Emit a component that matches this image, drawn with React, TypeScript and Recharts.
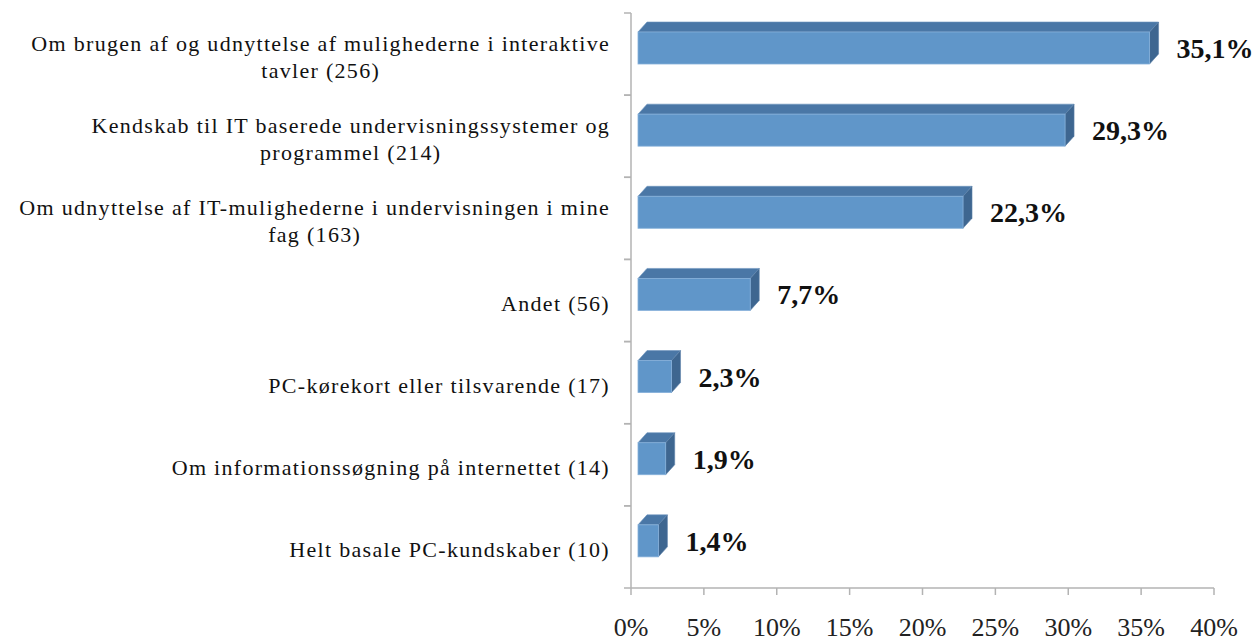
import React from "react";
import { BarChart, Bar, XAxis, YAxis, LabelList } from "recharts";

document.body.style.margin = "0";

// categories, top to bottom ("\n" marks where the label wraps)
const categories = [
  "Om brugen af og udnyttelse af mulighederne i interaktive\ntavler (256)",
  "Kendskab til IT baserede undervisningssystemer og\nprogrammel (214)",
  "Om udnyttelse af IT-mulighederne i undervisningen i mine\nfag (163)",
  "Andet (56)",
  "PC-kørekort eller tilsvarende (17)",
  "Om informationssøgning på internettet (14)",
  "Helt basale PC-kundskaber (10)",
];
const shares = [35.1, 29.3, 22.3, 7.7, 2.3, 1.9, 1.4];
const xTicks = [0, 5, 10, 15, 20, 25, 30, 35, 40];

const data = categories.map((name, i) => ({ name, value: shares[i] }));

const W = 1259;
const H = 644;
const AXIS_X = 631;
const PLOT_TOP = 13;
const PLOT_BOTTOM = 588;
const BAND = (PLOT_BOTTOM - PLOT_TOP) / categories.length;
const AXIS_COLOR = "#b3b3b3";
const SERIF = "Liberation Serif, Times New Roman, serif";

// 3D look like the old Excel chart
const DX = 9;
const DY = 10;
const SHIFT_X = 7;
const SHIFT_Y = -6;

const Bar3D = (props: any) => {
  const { x, y, width, height } = props;
  if (width == null || width <= 0) return null;
  const fx = x + SHIFT_X;
  const fy = y + SHIFT_Y;
  const w = width;
  const h = height;
  const top = `${fx},${fy} ${fx + DX},${fy - DY} ${fx + DX + w},${fy - DY} ${fx + w},${fy}`;
  const side = `${fx + w},${fy} ${fx + w + DX},${fy - DY} ${fx + w + DX},${fy + h - DY} ${fx + w},${fy + h}`;
  return (
    <g>
      <polygon points={top} fill="#4a77a6" stroke="#6b93bd" strokeWidth={0.6} />
      <polygon points={side} fill="#3e6690" stroke="#5d82aa" strokeWidth={0.6} />
      <rect x={fx} y={fy} width={w} height={h} fill="#6096c9" stroke="#85b0da" strokeWidth={0.8} />
    </g>
  );
};

const ValueLabel = (props: any) => {
  const { x, y, width, height, value } = props;
  const fx = x + SHIFT_X + width + DX + 18;
  const cy = y + SHIFT_Y + height / 2;
  return (
    <text
      x={fx}
      y={cy + 10}
      fontFamily={SERIF}
      fontWeight="bold"
      fontSize={28}
      fill="#111"
    >
      {`${Number(value).toFixed(1).replace(".", ",")}%`}
    </text>
  );
};

const CategoryTick = (props: any) => {
  const { y, payload } = props;
  return (
    <g>
      <line x1={AXIS_X - 7} x2={AXIS_X} y1={y - BAND / 2} y2={y - BAND / 2} stroke={AXIS_COLOR} strokeWidth={1.5} />
      <line x1={AXIS_X - 7} x2={AXIS_X} y1={y + BAND / 2} y2={y + BAND / 2} stroke={AXIS_COLOR} strokeWidth={1.5} />
      <foreignObject x={0} y={y - 40 + 3} width={610} height={80}>
        <div
          style={{
            height: "100%",
            display: "flex",
            alignItems: "center",
            justifyContent: "flex-end",
          }}
        >
          <div
            style={{
              whiteSpace: "pre-line",
              textAlign: "center",
              fontFamily: SERIF,
              fontSize: 22,
              letterSpacing: "1.3px",
              lineHeight: "27px",
              color: "#111",
            }}
          >
            {payload.value}
          </div>
        </div>
      </foreignObject>
    </g>
  );
};

const PercentTick = (props: any) => {
  const { x, payload } = props;
  return (
    <text x={x} y={636} textAnchor="middle" fontFamily={SERIF} fontSize={26} fill="#222">
      {`${payload.value}%`}
    </text>
  );
};

const App: React.FC = () => {
  return (
    <div style={{ width: W, height: H, background: "#fff" }}>
      <BarChart
        width={W}
        height={H}
        data={data}
        layout="vertical"
        margin={{ top: PLOT_TOP, right: W - 1214, bottom: 0, left: 0 }}
        barCategoryGap={0}
      >
        <XAxis
          type="number"
          domain={[0, 40]}
          ticks={xTicks}
          height={H - PLOT_BOTTOM}
          axisLine={{ stroke: AXIS_COLOR, strokeWidth: 1.5 }}
          tickLine={{ stroke: AXIS_COLOR, strokeWidth: 1.5 }}
          tickSize={7}
          tick={<PercentTick />}
          interval={0}
        />
        <YAxis
          type="category"
          dataKey="name"
          width={AXIS_X}
          axisLine={{ stroke: AXIS_COLOR, strokeWidth: 1.5 }}
          tickLine={false}
          tick={<CategoryTick />}
          interval={0}
        />
        <Bar dataKey="value" barSize={32} shape={<Bar3D />} isAnimationActive={false}>
          <LabelList dataKey="value" content={<ValueLabel />} />
        </Bar>
      </BarChart>
    </div>
  );
};

export default App;
